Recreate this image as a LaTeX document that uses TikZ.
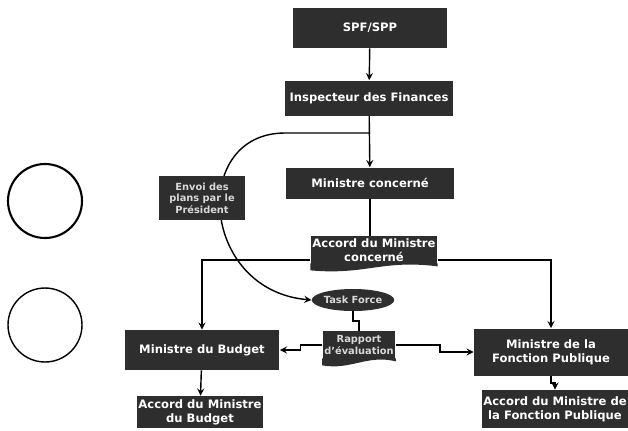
\documentclass[tikz,border=0pt]{standalone}
\usepackage{fontspec}
\setmainfont{DejaVu Sans}
\usetikzlibrary{shapes.geometric}
\usetikzlibrary{calc}

\tikzset{
	boxfill/.style={fill=black!82},
	blackbox/.style={boxfill, text=white, font=\fontsize{6.6}{7.8}\selectfont\bfseries, align=center, inner sep=1pt},
	smallbox/.style={boxfill, text=white!85!black, font=\fontsize{5.6}{6.6}\selectfont\bfseries, align=center, inner sep=1pt},
	arr/.style={->, >=stealth, thick},
	link/.style={thick}
}
\newcommand{\docwave}[1] % wavy bottom under node #1
{
	\fill[boxfill] ($(#1.south west)+(0,-1)$) -- ($(#1.south west)+(0,6)$)
		.. controls ($(#1.south)+(-8,11)$) and ($(#1.south)+(8,-5)$) .. ($(#1.south east)+(0,2)$)
		-- ($(#1.south east)+(0,-1)$) -- cycle;
}

\begin{document}
\begin{tikzpicture}[x=0.02cm, y=-0.02cm]
	% frame: 628 x 430 px
	\useasboundingbox (0,0) rectangle (628,430);
	% circles on the left
	\node[circle, draw, very thick, minimum size=1.48cm] (circA) at (45,201) {};
	\node[circle, draw, thick, minimum size=1.48cm] (circB) at (45,325) {};
	% main column
	\node[blackbox, minimum width=3.1cm, minimum height=0.8cm] (spf) at (370,28) {SPF/SPP};
	\node[blackbox, minimum width=3.36cm, minimum height=0.7cm] (insp) at (369,98) {Inspecteur des Finances};
	\node[blackbox, minimum width=3.38cm, minimum height=0.62cm] (minc) at (370,183) {Ministre concerné};
	\node[blackbox, minimum width=2.46cm, minimum height=0.56cm] (accc) at (374,250) {Accord du Ministre\\concerné};
	\docwave{accc}
	% side branches
	\node[blackbox, minimum width=3.1cm, minimum height=0.8cm] (mbud) at (202,350) {Ministre du Budget};
	\node[blackbox, minimum width=3.08cm, minimum height=0.94cm] (mfp) at (551,352) {Ministre de la\\Fonction Publique};
	\node[blackbox, minimum width=2.54cm, minimum height=0.64cm] (accb) at (200,412) {Accord du Ministre\\du Budget};
	\node[blackbox, minimum width=2.92cm, minimum height=0.76cm] (accfp) at (555,409) {Accord du Ministre de\\la Fonction Publique};
	% task force
	\node[smallbox, ellipse, minimum width=1.32cm, minimum height=0.44cm, inner sep=0pt] (tf) at (353,300) {Task Force};
	\node[smallbox, minimum width=1.32cm, minimum height=0.56cm] (rap) at (359,345) {Rapport\\d'évaluation};
	\docwave{rap}

	\draw[arr] (spf) -- (insp);
	\draw[arr] (insp) -- (minc);
	\draw[link] (minc.south) -- (minc.south |- accc.north);
	\draw[arr] ([yshift=-0.2cm]accc.west) -| (mbud.north);
	\draw[arr] ([yshift=-0.2cm]accc.east) -| (mfp.north);
	\coordinate (split) at (370,133);
	\draw[arr] (split) -- (285,133) .. controls (190,133) and (200,290) .. (tf.west);
	\node[smallbox, minimum width=1.74cm, minimum height=0.88cm] (envoi) at (202,198) {Envoi des\\plans par le\\Président};
	\draw[link] (tf.south) |- ($(tf.south)!0.5!(rap.north)$) -| (rap.north);
	\draw[arr] (rap.west) -- ++(-22,0) |- (mbud.east);
	\draw[arr] (rap.east) -- ++(44,0) |- (mfp.west);
	\draw[arr] (mbud) -- (accb);
	\draw[arr] (mfp.south) -- ++(0,7) -| (accfp.north);
\end{tikzpicture}
\end{document}
